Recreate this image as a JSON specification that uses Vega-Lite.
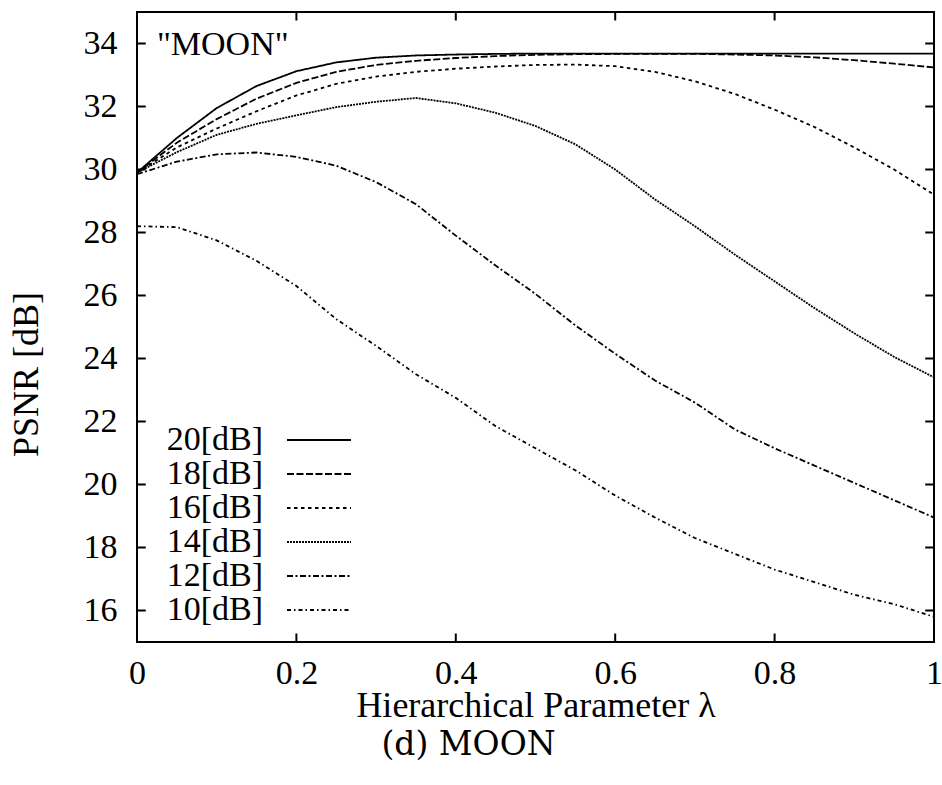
{
  "$schema": "https://vega.github.io/schema/vega-lite/v6.json",
  "width": 797,
  "height": 630,
  "autosize": "none",
  "padding": {"left": 137, "top": 12, "right": 8, "bottom": 143},
  "background": "white",
  "title": {"text": "(d) MOON", "orient": "bottom", "anchor": "middle", "font": "DejaVu Serif", "fontSize": 33, "fontWeight": "normal", "color": "black", "dx": -67, "offset": 6},
  "datasets": {
    "note": [{"l": 0.025, "p": 33.62, "t": "\"MOON\""}],
    "xticks": [{"l":0.2},{"l":0.4},{"l":0.6},{"l":0.8}],
    "yticks": [{"p":16},{"p":18},{"p":20},{"p":22},{"p":24},{"p":26},{"p":28},{"p":30},{"p":32},{"p":34}],
    "curves": [
      {"s":"20[dB]","l":0,"p":29.9},{"s":"20[dB]","l":0.05,"p":31.0},{"s":"20[dB]","l":0.1,"p":31.95},{"s":"20[dB]","l":0.15,"p":32.65},{"s":"20[dB]","l":0.2,"p":33.12},{"s":"20[dB]","l":0.25,"p":33.4},{"s":"20[dB]","l":0.3,"p":33.55},{"s":"20[dB]","l":0.35,"p":33.62},{"s":"20[dB]","l":0.4,"p":33.65},{"s":"20[dB]","l":0.45,"p":33.67},{"s":"20[dB]","l":0.5,"p":33.68},{"s":"20[dB]","l":0.55,"p":33.68},{"s":"20[dB]","l":0.6,"p":33.68},{"s":"20[dB]","l":0.65,"p":33.68},{"s":"20[dB]","l":0.7,"p":33.68},{"s":"20[dB]","l":0.75,"p":33.68},{"s":"20[dB]","l":0.8,"p":33.68},{"s":"20[dB]","l":0.85,"p":33.68},{"s":"20[dB]","l":0.9,"p":33.68},{"s":"20[dB]","l":0.95,"p":33.68},{"s":"20[dB]","l":1.0,"p":33.68},
      {"s":"18[dB]","l":0,"p":29.9},{"s":"18[dB]","l":0.05,"p":30.85},{"s":"18[dB]","l":0.1,"p":31.6},{"s":"18[dB]","l":0.15,"p":32.25},{"s":"18[dB]","l":0.2,"p":32.75},{"s":"18[dB]","l":0.25,"p":33.1},{"s":"18[dB]","l":0.3,"p":33.32},{"s":"18[dB]","l":0.35,"p":33.45},{"s":"18[dB]","l":0.4,"p":33.54},{"s":"18[dB]","l":0.45,"p":33.6},{"s":"18[dB]","l":0.5,"p":33.64},{"s":"18[dB]","l":0.55,"p":33.66},{"s":"18[dB]","l":0.6,"p":33.67},{"s":"18[dB]","l":0.65,"p":33.67},{"s":"18[dB]","l":0.7,"p":33.67},{"s":"18[dB]","l":0.75,"p":33.65},{"s":"18[dB]","l":0.8,"p":33.62},{"s":"18[dB]","l":0.85,"p":33.56},{"s":"18[dB]","l":0.9,"p":33.47},{"s":"18[dB]","l":0.95,"p":33.36},{"s":"18[dB]","l":1.0,"p":33.24},
      {"s":"16[dB]","l":0,"p":29.9},{"s":"16[dB]","l":0.05,"p":30.7},{"s":"16[dB]","l":0.1,"p":31.3},{"s":"16[dB]","l":0.15,"p":31.85},{"s":"16[dB]","l":0.2,"p":32.35},{"s":"16[dB]","l":0.25,"p":32.72},{"s":"16[dB]","l":0.3,"p":32.95},{"s":"16[dB]","l":0.35,"p":33.1},{"s":"16[dB]","l":0.4,"p":33.2},{"s":"16[dB]","l":0.45,"p":33.27},{"s":"16[dB]","l":0.5,"p":33.32},{"s":"16[dB]","l":0.55,"p":33.33},{"s":"16[dB]","l":0.6,"p":33.28},{"s":"16[dB]","l":0.65,"p":33.1},{"s":"16[dB]","l":0.7,"p":32.8},{"s":"16[dB]","l":0.75,"p":32.4},{"s":"16[dB]","l":0.8,"p":31.9},{"s":"16[dB]","l":0.85,"p":31.35},{"s":"16[dB]","l":0.9,"p":30.7},{"s":"16[dB]","l":0.95,"p":30.0},{"s":"16[dB]","l":1.0,"p":29.2},
      {"s":"14[dB]","l":0,"p":29.9},{"s":"14[dB]","l":0.05,"p":30.55},{"s":"14[dB]","l":0.1,"p":31.1},{"s":"14[dB]","l":0.15,"p":31.45},{"s":"14[dB]","l":0.2,"p":31.72},{"s":"14[dB]","l":0.25,"p":31.98},{"s":"14[dB]","l":0.3,"p":32.15},{"s":"14[dB]","l":0.35,"p":32.27},{"s":"14[dB]","l":0.4,"p":32.1},{"s":"14[dB]","l":0.45,"p":31.8},{"s":"14[dB]","l":0.5,"p":31.38},{"s":"14[dB]","l":0.55,"p":30.8},{"s":"14[dB]","l":0.6,"p":30.0},{"s":"14[dB]","l":0.65,"p":29.05},{"s":"14[dB]","l":0.7,"p":28.2},{"s":"14[dB]","l":0.75,"p":27.3},{"s":"14[dB]","l":0.8,"p":26.45},{"s":"14[dB]","l":0.85,"p":25.6},{"s":"14[dB]","l":0.9,"p":24.8},{"s":"14[dB]","l":0.95,"p":24.05},{"s":"14[dB]","l":1.0,"p":23.4},
      {"s":"12[dB]","l":0,"p":29.85},{"s":"12[dB]","l":0.05,"p":30.25},{"s":"12[dB]","l":0.1,"p":30.48},{"s":"12[dB]","l":0.15,"p":30.54},{"s":"12[dB]","l":0.2,"p":30.4},{"s":"12[dB]","l":0.25,"p":30.12},{"s":"12[dB]","l":0.3,"p":29.6},{"s":"12[dB]","l":0.35,"p":28.9},{"s":"12[dB]","l":0.4,"p":27.9},{"s":"12[dB]","l":0.45,"p":26.95},{"s":"12[dB]","l":0.5,"p":26.05},{"s":"12[dB]","l":0.55,"p":25.05},{"s":"12[dB]","l":0.6,"p":24.15},{"s":"12[dB]","l":0.65,"p":23.3},{"s":"12[dB]","l":0.7,"p":22.6},{"s":"12[dB]","l":0.75,"p":21.75},{"s":"12[dB]","l":0.8,"p":21.15},{"s":"12[dB]","l":0.85,"p":20.6},{"s":"12[dB]","l":0.9,"p":20.05},{"s":"12[dB]","l":0.95,"p":19.5},{"s":"12[dB]","l":1.0,"p":18.95},
      {"s":"10[dB]","l":0,"p":28.2},{"s":"10[dB]","l":0.05,"p":28.17},{"s":"10[dB]","l":0.1,"p":27.75},{"s":"10[dB]","l":0.15,"p":27.1},{"s":"10[dB]","l":0.2,"p":26.3},{"s":"10[dB]","l":0.25,"p":25.25},{"s":"10[dB]","l":0.3,"p":24.4},{"s":"10[dB]","l":0.35,"p":23.5},{"s":"10[dB]","l":0.4,"p":22.75},{"s":"10[dB]","l":0.45,"p":21.85},{"s":"10[dB]","l":0.5,"p":21.15},{"s":"10[dB]","l":0.55,"p":20.45},{"s":"10[dB]","l":0.6,"p":19.65},{"s":"10[dB]","l":0.65,"p":18.95},{"s":"10[dB]","l":0.7,"p":18.3},{"s":"10[dB]","l":0.75,"p":17.8},{"s":"10[dB]","l":0.8,"p":17.3},{"s":"10[dB]","l":0.85,"p":16.9},{"s":"10[dB]","l":0.9,"p":16.5},{"s":"10[dB]","l":0.95,"p":16.2},{"s":"10[dB]","l":1.0,"p":15.8}
    ]
  },
  "layer": [
    {
      "data": {"name": "curves"},
      "mark": {"type": "line", "stroke": "black", "strokeWidth": 1.8, "clip": true},
      "encoding": {
        "x": {"field": "l", "type": "quantitative", "scale": {"domain": [0, 1], "nice": false, "zero": false},
              "axis": {"orient": "bottom", "values": [0, 0.2, 0.4, 0.6, 0.8, 1], "format": ".1~f", "ticks": false, "tickSize": 0, "labelPadding": 14, "title": "Hierarchical Parameter λ", "titleFontSize": 36, "titlePadding": -2}},
        "y": {"field": "p", "type": "quantitative", "scale": {"domain": [15, 35], "nice": false, "zero": false},
              "axis": {"orient": "left", "values": [16, 18, 20, 22, 24, 26, 28, 30, 32, 34], "ticks": false, "tickSize": 0, "labelPadding": 20, "title": "PSNR [dB]", "titleFontSize": 36, "titleX": -111, "titleY": 362, "titleAngle": -90, "titleAlign": "center", "titleBaseline": "middle"}},
        "strokeDash": {"field": "s", "type": "nominal",
              "scale": {"domain": ["20[dB]", "18[dB]", "16[dB]", "14[dB]", "12[dB]", "10[dB]"],
                        "range": [[1, 0], [7, 2.5], [3.5, 3.5], [2, 1], [6, 2.5, 2, 2.5], [4, 3, 1.5, 3]]},
              "legend": {"title": null, "orient": "none", "legendX": 26, "legendY": 411, "padding": 0,
                         "symbolType": "M-4,0H4", "symbolSize": 256, "symbolStrokeWidth": 1.8, "symbolStrokeColor": "black",
                         "labelFont": "Liberation Serif", "labelFontSize": 34, "labelColor": "black", "labelLimit": 400,
                         "rowPadding": 0,
                         "encode": {"labels": {"update": {"x": {"value": 100}, "align": {"value": "right"}}},
                                    "symbols": {"update": {"x": {"value": 156}, "stroke": {"value": "black"}, "strokeWidth": {"value": 1.8}, "fill": {"value": "transparent"}}}}}}
      }
    },
    {
      "data": {"name": "xticks"},
      "mark": {"type": "rule", "stroke": "black", "strokeWidth": 2},
      "encoding": {"x": {"field": "l", "type": "quantitative"}, "y": {"datum": 15}, "y2": {"datum": 15.27}}
    },
    {
      "data": {"name": "xticks"},
      "mark": {"type": "rule", "stroke": "black", "strokeWidth": 2},
      "encoding": {"x": {"field": "l", "type": "quantitative"}, "y": {"datum": 35}, "y2": {"datum": 34.73}}
    },
    {
      "data": {"name": "yticks"},
      "mark": {"type": "rule", "stroke": "black", "strokeWidth": 2},
      "encoding": {"y": {"field": "p", "type": "quantitative"}, "x": {"datum": 0}, "x2": {"datum": 0.011}}
    },
    {
      "data": {"name": "yticks"},
      "mark": {"type": "rule", "stroke": "black", "strokeWidth": 2},
      "encoding": {"y": {"field": "p", "type": "quantitative"}, "x": {"datum": 1}, "x2": {"datum": 0.989}}
    },
    {
      "data": {"name": "note"},
      "mark": {"type": "text", "align": "left", "baseline": "alphabetic", "font": "Liberation Serif", "fontSize": 34, "color": "black"},
      "encoding": {
        "x": {"field": "l", "type": "quantitative"},
        "y": {"field": "p", "type": "quantitative"},
        "text": {"field": "t"}
      }
    }
  ],
  "config": {
    "view": {"stroke": "black", "strokeWidth": 2},
    "font": "Liberation Serif",
    "axis": {"domain": false, "grid": false, "labelFont": "Liberation Serif", "labelFontSize": 34, "labelColor": "black",
             "titleFont": "Liberation Serif", "titleFontSize": 34, "titleFontWeight": "normal", "titleColor": "black",
             "labelFlush": false, "labelOverlap": false}
  }
}
